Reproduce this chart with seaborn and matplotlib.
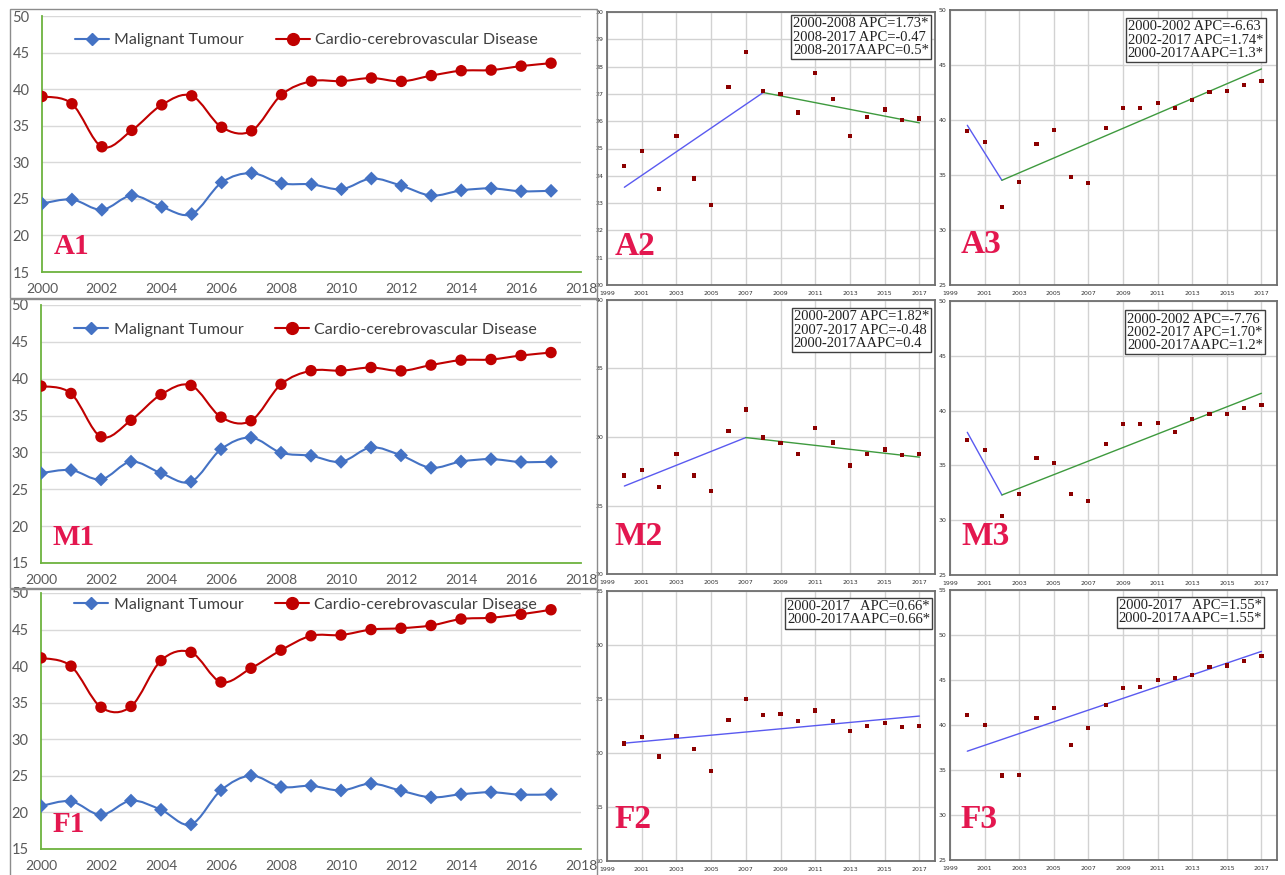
import numpy as np
import pandas as pd
import matplotlib
matplotlib.use("Agg")
import matplotlib.pyplot as plt
import seaborn as sns
from matplotlib.path import Path
from matplotlib.patches import PathPatch, Rectangle
from matplotlib.lines import Line2D

# ---------------- data ----------------
years = list(range(2000, 2018))

total_malignant = [24.36, 24.91, 23.51, 25.45, 23.90, 22.92, 27.24, 28.52, 27.11,
                   26.99, 26.32, 27.78, 26.80, 25.45, 26.16, 26.43, 26.04, 26.10]
total_cardio = [39.00, 38.00, 32.12, 34.36, 37.85, 39.09, 34.79, 34.30, 39.24,
                41.09, 41.09, 41.52, 41.06, 41.85, 42.52, 42.61, 43.15, 43.55]
male_malignant = [27.19, 27.61, 26.34, 28.75, 27.19, 26.03, 30.43, 32.01, 29.96,
                  29.55, 28.73, 30.67, 29.60, 27.92, 28.77, 29.09, 28.70, 28.73]
male_cardio = [37.29, 36.41, 30.41, 32.42, 35.68, 35.19, 32.42, 31.72, 36.92,
               38.78, 38.78, 38.87, 38.02, 39.20, 39.66, 39.69, 40.24, 40.51]
# panel M1 shows the same cardio-cerebrovascular curve as panel A1
male_panel_cardio_shown = [39.00, 38.00, 32.12, 34.36, 37.85, 39.09, 34.79, 34.30, 39.24,
                           41.09, 41.09, 41.52, 41.06, 41.85, 42.52, 42.61, 43.15, 43.55]
female_malignant = [20.88, 21.52, 19.67, 21.61, 20.36, 18.36, 23.03, 25.03, 23.48,
                    23.64, 23.00, 23.94, 22.97, 22.06, 22.48, 22.76, 22.42, 22.48]
female_cardio = [41.13, 40.00, 34.38, 34.49, 40.76, 41.89, 37.82, 39.71, 42.18,
                 44.15, 44.25, 45.00, 45.18, 45.56, 46.44, 46.62, 47.09, 47.71]

# joinpoint fitted values at segment ends
tm_fit_years, tm_fit = [2000, 2008, 2017], [23.58, 27.05, 25.94]
tc_fit_years, tc_fit = [2000, 2002, 2017], [39.52, 34.52, 44.64]
mm_fit_years, mm_fit = [2000, 2007, 2017], [26.42, 29.96, 28.53]
mc_fit_years, mc_fit = [2000, 2002, 2017], [38.02, 32.30, 41.58]
fm_fit_years, fm_fit = [2000, 2017], [20.91, 23.42]
fc_fit_years, fc_fit = [2000, 2017], [37.09, 48.18]

series_names = ["Malignant Tumour", "Cardio-cerebrovascular Disease"]

apc_texts = {
    "A2": "2000-2008 APC=1.73*\n2008-2017 APC=-0.47\n2008-2017AAPC=0.5*",
    "A3": "2000-2002 APC=-6.63\n2002-2017 APC=1.74*\n2000-2017AAPC=1.3*",
    "M2": "2000-2007 APC=1.82*\n2007-2017 APC=-0.48\n2000-2017AAPC=0.4",
    "M3": "2000-2002 APC=-7.76\n2002-2017 APC=1.70*\n2000-2017AAPC=1.2*",
    "F2": "2000-2017   APC=0.66*\n2000-2017AAPC=0.66*",
    "F3": "2000-2017   APC=1.55*\n2000-2017AAPC=1.55*",
}

# ---------------- style ----------------
sns.set_theme(style="white")
plt.rcParams["font.family"] = ["DejaVu Sans"]

W, H = 1285, 875
fig = plt.figure(figsize=(W / 100, H / 100), dpi=100)
fig.patch.set_facecolor("white")


def px_axes(l, t, r, b):
    return fig.add_axes([l / W, 1 - b / H, (r - l) / W, (b - t) / H])


LABEL_RED = "#E3174F"
BLUE = "#4472C4"
DARKRED = "#C00000"
GREEN = "#6DB33F"


def smooth_path(x, y):
    pts = np.column_stack([np.asarray(x, float), np.asarray(y, float)])
    n = len(pts)
    verts = [pts[0]]
    codes = [Path.MOVETO]
    for i in range(n - 1):
        p0 = pts[i - 1] if i > 0 else pts[i]
        p1 = pts[i]
        p2 = pts[i + 1]
        p3 = pts[i + 2] if i + 2 < n else pts[i + 1]
        c1 = p1 + (p2 - p0) / 6.0
        c2 = p2 - (p3 - p1) / 6.0
        verts += [c1, c2, p2]
        codes += [Path.CURVE4] * 3
    return Path(verts, codes)


def left_panel(box, axpos, mal, card, label, label_xy, leg_y):
    fig.patches.append(Rectangle((box[0] / W, 1 - box[3] / H), (box[2] - box[0]) / W,
                                 (box[3] - box[1]) / H, transform=fig.transFigure,
                                 fill=False, edgecolor="#8c8c8c", lw=1.0, zorder=0))
    ax = px_axes(*axpos)
    df = pd.DataFrame({"Year": years * 2, "Rate": mal + card,
                       "Cause": [series_names[0]] * len(years) + [series_names[1]] * len(years)})
    for name, col in zip(series_names, [BLUE, DARKRED]):
        d = df[df.Cause == name]
        ax.add_patch(PathPatch(smooth_path(d.Year, d.Rate), fill=False, edgecolor=col,
                               lw=1.5, zorder=3))
    sns.scatterplot(data=df, x="Year", y="Rate", hue="Cause", style="Cause",
                    markers={series_names[0]: "D", series_names[1]: "o"},
                    palette={series_names[0]: BLUE, series_names[1]: DARKRED},
                    size="Cause", sizes={series_names[0]: 50, series_names[1]: 68},
                    edgecolor="none", legend=False, ax=ax, zorder=4)
    ax.set_xlim(2000, 2018)
    ax.set_ylim(15, 50)
    ax.set_xticks(range(2000, 2019, 2))
    ax.set_yticks(range(15, 51, 5))
    ax.set_xlabel("")
    ax.set_ylabel("")
    ax.grid(False)
    ax.yaxis.grid(True, color="#D9D9D9", lw=1.0)
    ax.set_axisbelow(True)
    for s in ["top", "right"]:
        ax.spines[s].set_visible(False)
    for s in ["left", "bottom"]:
        ax.spines[s].set_color(GREEN)
        ax.spines[s].set_linewidth(1.3)
    ax.tick_params(axis="x", length=5, width=1.2, color=GREEN, direction="out",
                   labelsize=10, labelcolor="#595959", pad=3)
    ax.tick_params(axis="y", length=0, labelsize=10.5, labelcolor="#595959", pad=9)
    for t in ax.get_xticklabels() + ax.get_yticklabels():
        t.set_family("Lato")
    handles = [Line2D([0], [0], color=BLUE, lw=1.5, marker="D", markersize=6.5),
               Line2D([0], [0], color=DARKRED, lw=1.5, marker="o", markersize=8.5)]
    ax.legend(handles, series_names, ncol=2, frameon=False, loc="center left",
              bbox_to_anchor=(0.05, leg_y), handlelength=2.1, handletextpad=0.35,
              columnspacing=2.0, prop={"family": "Lato", "size": 11.5},
              labelcolor="#404040", borderaxespad=0)
    ax.text(label_xy[0], label_xy[1], label, transform=ax.transAxes, color=LABEL_RED,
            fontsize=21, fontweight="bold", family="Liberation Serif", va="baseline")
    return ax


def right_panel(axpos, pts, fit_years, fit_vals, ylim, ystep, label, label_xy, box_xy):
    ax = px_axes(*axpos)
    sns.scatterplot(x=years, y=pts, marker="s", s=9, color="#8B0000", edgecolor="none",
                    ax=ax, zorder=4)
    seg_colors = ["#5A5AF0", "#3E9A3E"]
    for i in range(len(fit_years) - 1):
        sns.lineplot(x=fit_years[i:i + 2], y=fit_vals[i:i + 2], color=seg_colors[i],
                     lw=1.0, ax=ax, zorder=3)
    ax.set_xlim(1999, 2017.9)
    ax.set_ylim(*ylim)
    ax.set_xticks(range(1999, 2018, 2))
    ax.set_yticks(np.arange(ylim[0], ylim[1] + 0.01, ystep))
    ax.set_yticklabels([f"{v:g}" for v in np.arange(ylim[0], ylim[1] + 0.01, ystep)])
    ax.grid(True, color="#D2D2D2", lw=1.0)
    ax.set_axisbelow(True)
    for s in ax.spines.values():
        s.set_color("#6E6E6E")
        s.set_linewidth(1.3)
    ax.tick_params(length=2, width=0.6, color="#6E6E6E", labelsize=4.5,
                   labelcolor="#333333")
    ax.tick_params(axis="x", pad=2.4)
    ax.tick_params(axis="y", pad=0.8)
    ax.text(label_xy[0], label_xy[1], label, transform=ax.transAxes, color=LABEL_RED,
            fontsize=24, fontweight="bold", family="Liberation Serif", va="baseline")
    ax.text(box_xy[0], box_xy[1], apc_texts[label], transform=ax.transAxes, ha="right",
            va="top", fontsize=10.5, family="Liberation Serif", color="#222222",
            linespacing=1.02, multialignment="left",
            bbox=dict(boxstyle="square,pad=0.15", facecolor="white",
                      edgecolor="#404040", lw=1.0), zorder=6)
    return ax


# left column
left_panel((10, 9, 597, 298), (42, 16, 581, 272), total_malignant, total_cardio,
           "A1", (0.022, 0.07), 0.905)
left_panel((10, 299, 597, 588), (41, 305, 581, 563), male_malignant, male_panel_cardio_shown,
           "M1", (0.022, 0.07), 0.905)
left_panel((10, 589, 597, 876), (41, 593, 581, 849), female_malignant, female_cardio,
           "F1", (0.022, 0.066), 0.955)

# joinpoint panels
right_panel((607, 12, 935, 285), total_malignant, tm_fit_years, tm_fit, (20, 30), 1,
            "A2", (0.024, 0.11), (0.982, 0.98))
right_panel((950, 10, 1277, 285), total_cardio, tc_fit_years, tc_fit, (25, 50), 5,
            "A3", (0.034, 0.116), (0.96, 0.962))
right_panel((607, 300, 935, 574), male_malignant, mm_fit_years, mm_fit, (20, 40), 5,
            "M2", (0.024, 0.106), (0.982, 0.962))
right_panel((950, 301, 1277, 575), male_cardio, mc_fit_years, mc_fit, (25, 50), 5,
            "M3", (0.034, 0.11), (0.958, 0.958))
right_panel((607, 591, 935, 861), female_malignant, fm_fit_years, fm_fit, (10, 35), 5,
            "F2", (0.024, 0.124), (0.985, 0.966))
right_panel((950, 590, 1277, 860), female_cardio, fc_fit_years, fc_fit, (25, 55), 5,
            "F3", (0.032, 0.12), (0.955, 0.966))

fig.savefig("out.png", dpi=100, facecolor="white")
